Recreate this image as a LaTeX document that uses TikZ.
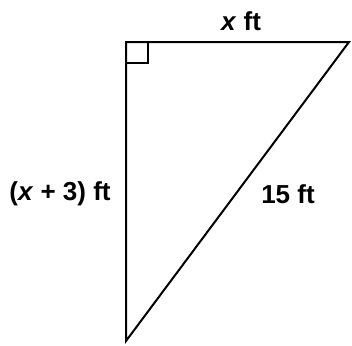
\documentclass[tikz,border=0pt]{standalone}
\usepackage{fontspec}
\setmainfont{Liberation Sans}
\usetikzlibrary{positioning}

\begin{document}
\begin{tikzpicture}[
  x=1pt, y=-1pt,
  font=\fontsize{26}{30}\selectfont\bfseries,
  edge/.style={draw, line width=2pt, line join=miter},
  marker/.style={draw, line width=1.6pt},
  sidelabel/.style={inner sep=2pt}
]
\useasboundingbox (0,0) rectangle (352,345);
\coordinate (tl) at (126,42);
\coordinate (tr) at (349,42);
\coordinate (bt) at (126,341);
\draw[edge] (tl) -- (tr) -- (bt) -- cycle;
\draw[marker] ([yshift=-21pt]tl) -| ([xshift=22pt]tl);
\node[sidelabel, anchor=center] (top) at (241,21) {\textit{x} ft};
\node[sidelabel, anchor=center] (left) at (60,194) {(\textit{x} + 3) ft};
\node[sidelabel, anchor=center] (hyp) at (288,194) {15 ft};
\end{tikzpicture}
\end{document}
